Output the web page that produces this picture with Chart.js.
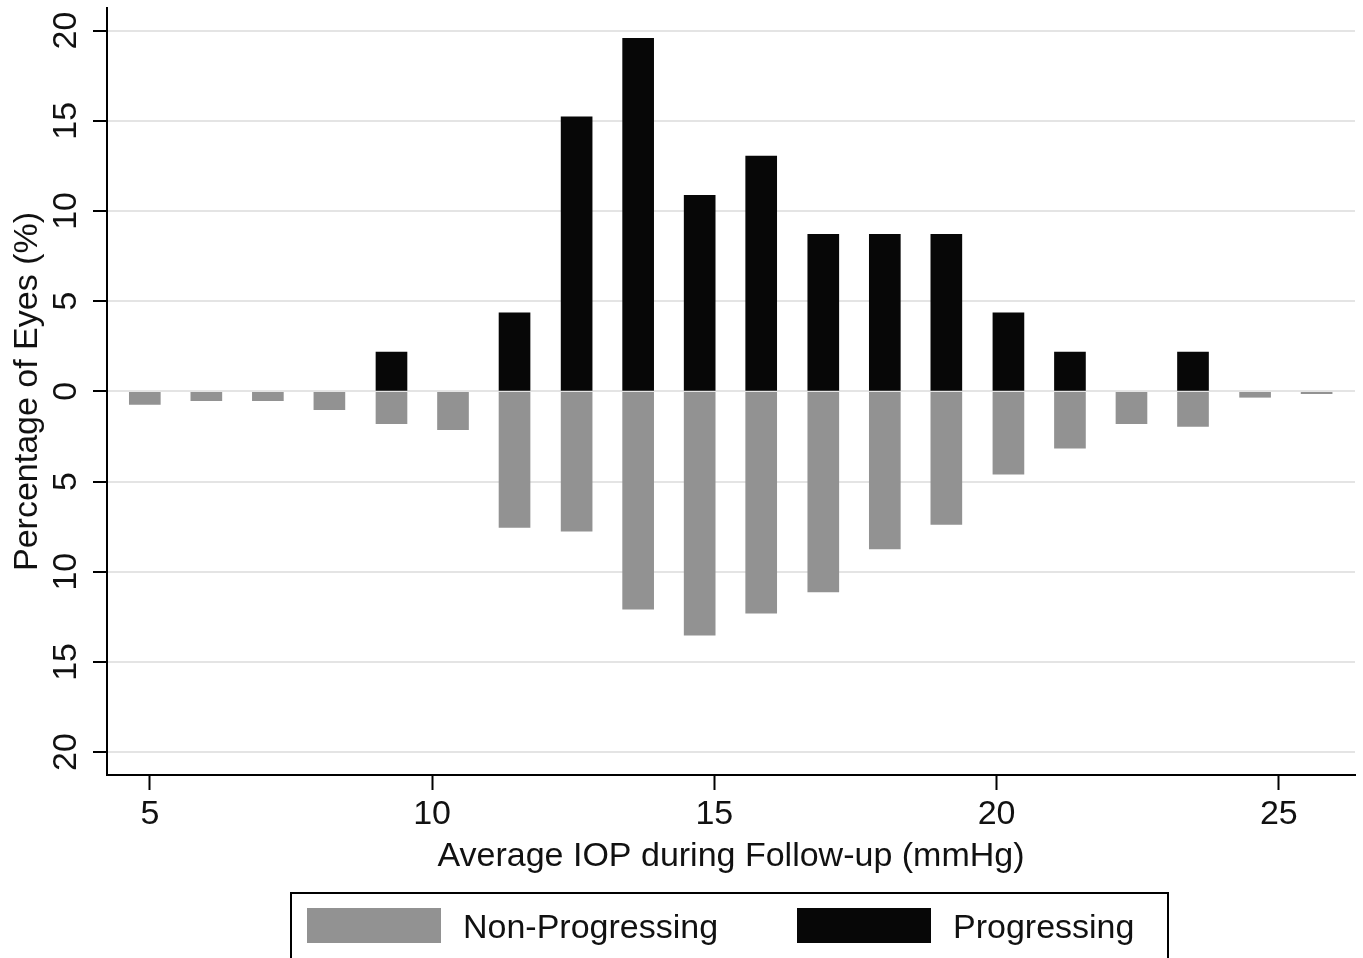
<!DOCTYPE html>
<html>
<head>
<meta charset="utf-8">
<script src="https://cdn.jsdelivr.net/npm/chart.js@4"></script>
<style>
  body { margin: 0; background: #fff; }
  #wrap { width: 1363px; height: 958px; }
</style>
</head>
<body>
<div id="wrap"><canvas id="iopChart"></canvas></div>
<script>
// Bin centres (average IOP, mmHg) and percentage of eyes in each bin
const iopBins = [4.91, 6.00, 7.09, 8.18, 9.28, 10.37, 11.46, 12.56, 13.65, 14.74,
                 15.83, 16.93, 18.02, 19.11, 20.21, 21.30, 22.39, 23.48, 24.58, 25.67];
const nonProgressing = [0.73, 0.52, 0.52, 1.02, 1.80, 2.13, 7.54, 7.75, 12.08, 13.52,
                        12.30, 11.12, 8.74, 7.38, 4.59, 3.15, 1.80, 1.95, 0.33, 0.13];
const progressing = [null, null, null, null, 2.17, null, 4.35, 15.22, 19.57, 10.87,
                     13.04, 8.70, 8.70, 8.70, 4.35, 2.17, null, 2.17, null, null];
const xTicks = [5, 10, 15, 20, 25];
const yTicks = [-20, -15, -10, -5, 0, 5, 10, 15, 20];

const FONT = { family: '"Liberation Sans", Arial, Helvetica, sans-serif', size: 34 };

// Stata style framed legend under the axis title
const boxLegend = {
    id: 'boxLegend',
    afterDraw(chart) {
        const ctx = chart.ctx;
        ctx.save();
        ctx.strokeStyle = '#000';
        ctx.lineWidth = 2;
        ctx.strokeRect(291, 893, 877, 70);
        ctx.font = FONT.size + 'px ' + FONT.family;
        ctx.textBaseline = 'middle';
        const items = [[307, 463, 0], [797, 953, 1]];
        items.forEach(([sx, tx, i]) => {
            const ds = chart.data.datasets[i];
            ctx.fillStyle = ds.backgroundColor;
            ctx.fillRect(sx, 908, 134, 35);
            ctx.fillStyle = '#111';
            ctx.fillText(ds.label, tx, 929);
        });
        ctx.restore();
    }
};

const ctx = document.getElementById('iopChart').getContext('2d');

const config = {
    type: 'bar',
    data: {
        datasets: [{
            label: 'Non-Progressing',
            data: iopBins.map((x, i) => ({ x: x, y: -nonProgressing[i] })),
            backgroundColor: '#929292'
        }, {
            label: 'Progressing',
            data: iopBins.map((x, i) => ({ x: x, y: progressing[i] })),
            backgroundColor: '#070707'
        }]
    },
    options: {
        responsive: true,
        maintainAspectRatio: false,
        animation: false,
        layout: { padding: { top: 8, right: 8, left: 0, bottom: 0 } },
        datasets: { bar: { grouped: false, barThickness: 31, borderWidth: 0 } },
        plugins: { legend: { display: false }, tooltip: { enabled: false } },
        scales: {
            x: {
                type: 'linear',
                min: 4.24,
                max: 26.35,
                offset: false,
                afterBuildTicks: s => { s.ticks = xTicks.map(v => ({ value: v })); },
                afterFit: s => { s.height = 183; s.paddingLeft = 0; s.paddingRight = 0; },
                grid: { offset: false, drawOnChartArea: false, drawTicks: true,
                        tickLength: 15, tickColor: '#000', tickWidth: 2 },
                border: { display: true, color: '#000', width: 2 },
                ticks: { font: FONT, color: '#111', padding: 4, maxRotation: 0 },
                title: { display: true, text: 'Average IOP during Follow-up (mmHg)',
                         font: FONT, color: '#111', padding: { top: 0, bottom: 81 } }
            },
            y: {
                min: -21.27,
                max: 21.25,
                afterBuildTicks: s => { s.ticks = yTicks.map(v => ({ value: v })); },
                afterFit: s => { s.width = 107; s.paddingTop = 0; s.paddingBottom = 0; },
                grid: { color: '#e4e4e4', lineWidth: 2, drawTicks: true,
                        tickLength: 14, tickColor: '#000', tickWidth: 2 },
                border: { display: true, color: '#000', width: 2 },
                ticks: { font: FONT, color: '#111', padding: 7, minRotation: 90, maxRotation: 90,
                         crossAlign: 'center', callback: v => Math.abs(v) },
                title: { display: true, text: 'Percentage of Eyes (%)',
                         font: FONT, color: '#111', padding: { top: 7, bottom: 0 } }
            }
        }
    },
    plugins: [boxLegend]
};

const iopChart = new Chart(ctx, config);
</script>
</body>
</html>
